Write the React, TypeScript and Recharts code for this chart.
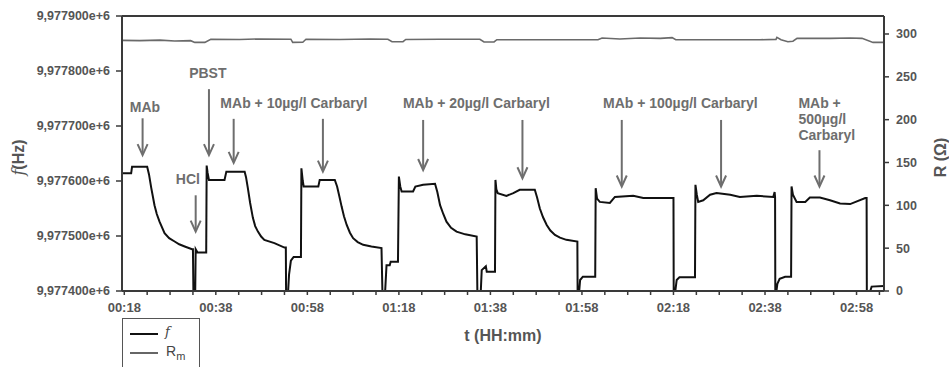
import React from "react";
import {
  LineChart,
  Line,
  XAxis,
  YAxis,
  ReferenceLine,
  ReferenceDot,
} from "recharts";

// --- Data (time in minutes since 00:00, f in Hz, R in Ohm) ---

// f trace as [minute, Hz]
const fPoints: [number, number][] = [
  [17.5, 9977614], [19.5, 9977614], [19.7, 9977626], [23.0, 9977626], [23.4, 9977612], [23.9, 9977587],
  [24.6, 9977556], [25.1, 9977540], [25.7, 9977526], [26.8, 9977505], [27.8, 9977496], [29.0, 9977490],
  [30.0, 9977485], [31.2, 9977481], [32.8, 9977476], [33.0, 9977476], [33.1, 9977400], [33.5, 9977400],
  [33.6, 9977476], [34.0, 9977470], [35.9, 9977470], [36.0, 9977628], [36.2, 9977615], [36.5, 9977602],
  [39.9, 9977602], [40.3, 9977617], [44.3, 9977617], [44.6, 9977607], [45.0, 9977587], [45.5, 9977560],
  [46.1, 9977533], [46.6, 9977518], [47.2, 9977508], [47.9, 9977499], [48.6, 9977493], [50.8, 9977487],
  [53.0, 9977479], [53.3, 9977479], [53.35, 9977400], [53.8, 9977400], [54.0, 9977430], [54.4, 9977455],
  [55.0, 9977462], [56.6, 9977462], [56.7, 9977623], [57.0, 9977600], [57.2, 9977590], [60.4, 9977590],
  [60.7, 9977602], [64.0, 9977602], [64.5, 9977590], [65.0, 9977572], [65.5, 9977553], [66.0, 9977536],
  [66.6, 9977520], [67.3, 9977506], [68.0, 9977496], [69.0, 9977489], [70.2, 9977484], [72.0, 9977481],
  [74.2, 9977478], [74.4, 9977400], [75.0, 9977400], [75.3, 9977447], [76.0, 9977447], [76.2, 9977453],
  [77.8, 9977453], [78.0, 9977608], [78.3, 9977590], [78.6, 9977581], [81.1, 9977581], [81.6, 9977590],
  [83.3, 9977593], [85.9, 9977595], [86.4, 9977580], [87.0, 9977556], [87.7, 9977540], [88.4, 9977526],
  [89.4, 9977515], [90.6, 9977508], [92.5, 9977503], [95.0, 9977499], [95.15, 9977400], [95.9, 9977400],
  [96.1, 9977438], [97.0, 9977445], [97.2, 9977435], [99.0, 9977435], [99.1, 9977602], [99.3, 9977585],
  [99.6, 9977578], [101.5, 9977573], [103.0, 9977578], [104.4, 9977584], [107.7, 9977584],
  [108.2, 9977570], [108.8, 9977550], [109.5, 9977534], [110.3, 9977520], [111.1, 9977510],
  [112.1, 9977502], [113.2, 9977497], [114.6, 9977493], [117.0, 9977490], [117.05, 9977400],
  [117.4, 9977400], [117.6, 9977420], [118.2, 9977426], [120.9, 9977426], [121.0, 9977587],
  [121.3, 9977568], [121.9, 9977562], [124.1, 9977560], [125.2, 9977571], [129.2, 9977573],
  [131.4, 9977569], [138.0, 9977569], [138.05, 9977400], [138.4, 9977400], [138.7, 9977420],
  [139.3, 9977425], [142.7, 9977425], [142.8, 9977593], [143.1, 9977575], [143.4, 9977562],
  [144.5, 9977565], [146.0, 9977575], [147.4, 9977578], [150.4, 9977575], [152.5, 9977571],
  [156.2, 9977573], [159.8, 9977571], [160.1, 9977580], [160.2, 9977571], [160.25, 9977400],
  [160.5, 9977400], [160.7, 9977413], [161.2, 9977422], [162.4, 9977426], [163.7, 9977426],
  [163.8, 9977590], [164.1, 9977575], [164.9, 9977562], [166.8, 9977562], [167.8, 9977570],
  [170.0, 9977570], [172.2, 9977565], [174.4, 9977559], [176.6, 9977558], [179.9, 9977569],
  [180.2, 9977569], [180.25, 9977400], [181.0, 9977400], [181.3, 9977408], [184.0, 9977409],
];

// R_m trace as [minute, Ohm]
const rPoints: [number, number][] = [
  [17.5, 292.5], [21.4, 292.2], [25.8, 292.8], [29.0, 291.8], [32.5, 292.2], [33.4, 290.2], [35.6, 290.2],
  [36.9, 293.9], [43.2, 293.6], [47.6, 294.2], [54.4, 293.9], [54.8, 290.2], [57.0, 290.4], [57.7, 293.9],
  [65.1, 293.6], [71.7, 294.2], [75.6, 293.9], [76.5, 291.0], [78.9, 291.0], [79.5, 293.6], [87.0, 293.9],
  [95.7, 293.9], [96.6, 290.7], [98.8, 290.7], [99.4, 293.3], [111.0, 293.3], [121.5, 293.3],
  [122.4, 295.3], [126.3, 294.2], [130.7, 295.3], [135.1, 294.9], [137.7, 295.7], [138.5, 293.3],
  [148.1, 293.3], [156.9, 293.3], [160.4, 293.7], [160.6, 296.0], [161.5, 293.3], [163.0, 291.0],
  [164.1, 291.6], [165.0, 294.9], [172.2, 294.9], [176.6, 295.3], [179.2, 294.9], [181.6, 290.2],
  [184.0, 290.2],
];

const xTicks = [
  18, 23, 28, 33, 38, 43, 48, 53, 58, 63, 68, 73, 78, 83, 88, 93, 98, 103, 108, 113, 118, 123, 128, 133,
  138, 143, 148, 153, 158, 163, 168, 173, 178, 183,
];
const fTicks = [9977400, 9977500, 9977600, 9977700, 9977800, 9977900];
const rTicks = [0, 50, 100, 150, 200, 250, 300];

// arrows: time, top (Hz), tip (Hz)
const arrowTime = [22.0, 36.5, 33.6, 41.9, 61.4, 83.3, 105.0, 126.7, 148.4, 169.9];
const arrowTop = [
  9977714, 9977767, 9977574, 9977713, 9977713, 9977711, 9977711, 9977711, 9977711, 9977656,
];
const arrowTip = [
  9977647, 9977647, 9977508, 9977633, 9977617, 9977620, 9977605, 9977590, 9977590, 9977590,
];

// labels: text lines, time, baseline (Hz), anchor
const labelLines = [
  ["MAb"],
  ["PBST"],
  ["HCl"],
  ["MAb + 10µg/l Carbaryl"],
  ["MAb + 20µg/l Carbaryl"],
  ["MAb + 100µg/l Carbaryl"],
  ["MAb +", "500µg/l", "Carbaryl"],
];
const labelTime = [22.5, 36.25, 31.9, 55.05, 94.94, 139.5, 165.3];
const labelHz = [9977726, 9977787, 9977594, 9977732, 9977732, 9977732, 9977732];
const labelAnchor = ["middle", "middle", "middle", "middle", "middle", "middle", "start"];

// --- Helpers ---

const FONT = "'Liberation Sans', Arial, sans-serif";
const ANNO = "#6e6e6e";
const AXIS = "#3a3a3a";
const TICK_TEXT = "#555";

const fData = fPoints.map(([t, f]) => ({ t, f }));
const rData = rPoints.map(([t, r]) => ({ t, r }));

function fmtTime(v: number): string {
  if ((v - 18) % 20 !== 0) return "";
  const h = Math.floor(v / 60);
  const m = v % 60;
  return `${String(h).padStart(2, "0")}:${String(m).padStart(2, "0")}`;
}

function fmtHz(v: number): string {
  const s = String(v);
  return `${s[0]},${s.slice(1)}e+6`;
}

function Arrow(props: any) {
  const { x1, y1, x2, y2 } = props;
  return (
    <g>
      <line x1={x1} y1={y1} x2={x2} y2={y2 - 1} stroke={ANNO} strokeWidth={2} />
      <polyline
        points={`${x2 - 5},${y2 - 11} ${x2},${y2} ${x2 + 5},${y2 - 11}`}
        fill="none"
        stroke={ANNO}
        strokeWidth={2}
      />
    </g>
  );
}

function makeLabel(lines: string[], anchor: string) {
  return (props: any) => (
    <text
      x={props.cx}
      y={props.cy}
      textAnchor={anchor}
      fill={ANNO}
      fontFamily={FONT}
      fontWeight="bold"
      fontSize={14}
    >
      {lines.map((ln, i) => (
        <tspan key={i} x={props.cx} dy={i === 0 ? 0 : 16}>
          {ln}
        </tspan>
      ))}
    </text>
  );
}

function FLabel(props: any) {
  const vb = props.viewBox;
  const cx = 18;
  const cy = vb.y + vb.height / 2 + 4;
  return (
    <text
      transform={`rotate(-90 ${cx} ${cy})`}
      x={cx}
      y={cy + 6}
      textAnchor="middle"
      fill={TICK_TEXT}
      fontFamily={FONT}
      fontWeight="bold"
      fontSize={16}
    >
      <tspan fontStyle="italic" fontFamily="'DejaVu Serif', serif" fontWeight="normal">
        f
      </tspan>
      <tspan>(Hz)</tspan>
    </text>
  );
}

function RLabel(props: any) {
  const vb = props.viewBox;
  const cx = 940;
  const cy = vb.y + vb.height / 2 + 4;
  return (
    <text
      transform={`rotate(-90 ${cx} ${cy})`}
      x={cx}
      y={cy + 6}
      textAnchor="middle"
      fill={TICK_TEXT}
      fontFamily={FONT}
      fontWeight="bold"
      fontSize={16}
    >
      R (Ω)
    </text>
  );
}

function TLabel(props: any) {
  const vb = props.viewBox;
  return (
    <text
      x={vb.x + vb.width / 2}
      y={341}
      textAnchor="middle"
      fill={TICK_TEXT}
      fontFamily={FONT}
      fontWeight="bold"
      fontSize={16}
    >
      t (HH:mm)
    </text>
  );
}

const tickStyle = { fill: TICK_TEXT, fontSize: 12.5, fontWeight: "bold" as const, fontFamily: FONT };

export default function App() {
  return (
    <div style={{ position: "absolute", left: 0, top: 0, width: 949, height: 367, background: "#fff" }}>
      <LineChart width={949} height={367} margin={{ top: 16, right: 0, bottom: 16, left: 0 }}>
        <XAxis
          dataKey="t"
          type="number"
          domain={[17.5, 184]}
          allowDataOverflow
          ticks={xTicks}
          interval={0}
          tickFormatter={fmtTime}
          tick={{ ...tickStyle, fontSize: 13 }}
          tickSize={4}
          tickMargin={8}
          tickLine={{ stroke: AXIS, strokeWidth: 1.5 }}
          axisLine={{ stroke: AXIS, strokeWidth: 2 }}
          height={60}
          label={<TLabel />}
        />
        <YAxis
          yAxisId="f"
          type="number"
          domain={[9977400, 9977900]}
          allowDataOverflow
          ticks={fTicks}
          interval={0}
          tickFormatter={fmtHz}
          tick={tickStyle}
          tickSize={6}
          tickMargin={6}
          tickLine={{ stroke: AXIS, strokeWidth: 1.5 }}
          axisLine={{ stroke: AXIS, strokeWidth: 2 }}
          width={122}
          label={<FLabel />}
        />
        <YAxis
          yAxisId="r"
          orientation="right"
          type="number"
          domain={[0, 321]}
          allowDataOverflow
          ticks={rTicks}
          interval={0}
          tick={tickStyle}
          tickSize={5}
          tickMargin={7}
          tickLine={{ stroke: AXIS, strokeWidth: 1.5 }}
          axisLine={{ stroke: AXIS, strokeWidth: 2 }}
          width={65}
          label={<RLabel />}
        />
        <ReferenceLine yAxisId="f" y={9977900} stroke={AXIS} strokeWidth={2} />

        <Line
          yAxisId="r"
          data={rData}
          dataKey="r"
          type="linear"
          stroke="#6a6a6a"
          strokeWidth={1.6}
          dot={false}
          isAnimationActive={false}
        />
        <Line
          yAxisId="f"
          data={fData}
          dataKey="f"
          type="linear"
          stroke="#111"
          strokeWidth={2}
          dot={false}
          isAnimationActive={false}
        />

        {arrowTime.map((t, i) => (
          <ReferenceLine
            key={`a${i}`}
            yAxisId="f"
            segment={[
              { x: t, y: arrowTop[i] },
              { x: t, y: arrowTip[i] },
            ]}
            shape={Arrow}
          />
        ))}
        {labelLines.map((lines, i) => (
          <ReferenceDot
            key={`l${i}`}
            yAxisId="f"
            x={labelTime[i]}
            y={labelHz[i]}
            r={0}
            shape={makeLabel(lines, labelAnchor[i])}
          />
        ))}
      </LineChart>

      <div
        style={{
          position: "absolute",
          left: 122,
          top: 318,
          width: 76,
          height: 60,
          border: "1.5px solid #555",
          background: "#fff",
          fontFamily: FONT,
          fontSize: 14,
          color: "#444",
        }}
      >
        <div style={{ position: "absolute", left: 7, top: 14, width: 28, height: 2, background: "#111" }} />
        <span
          style={{
            position: "absolute",
            left: 42,
            top: 5,
            fontStyle: "italic",
            fontFamily: "'DejaVu Serif', serif",
            fontSize: 13,
          }}
        >
          f
        </span>
        <div style={{ position: "absolute", left: 7, top: 33, width: 28, height: 1.5, background: "#666" }} />
        <span style={{ position: "absolute", left: 43, top: 24 }}>
          R<sub style={{ fontSize: 11 }}>m</sub>
        </span>
      </div>
    </div>
  );
}
